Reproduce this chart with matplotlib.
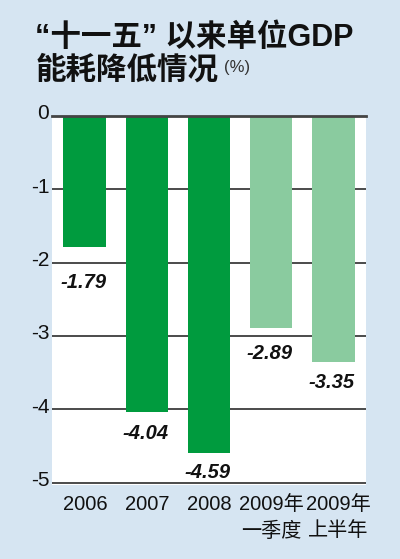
import numpy as np
import matplotlib.pyplot as plt
from matplotlib.transforms import ScaledTranslation

# data
categories = ['2006', '2007', '2008', '2009年\n一季度', '2009年\n上半年']
values = [-1.79, -4.04, -4.59, -2.89, -3.35]
value_labels = ['-1.79', '-4.04', '-4.59', '-2.89', '-3.35']
yticks = [0, -1, -2, -3, -4, -5]
ytick_labels = ['0', '-1', '-2', '-3', '-4', '-5']

dark_green = '#009b3e'
light_green = '#8acb9f'
bar_colors = [dark_green, dark_green, dark_green, light_green, light_green]
label_drop = [25, 15, 14, 18, 15]  # points below end of bar

bg = '#d6e5f2'
fams = ['Liberation Sans', 'Noto Sans CJK SC']
plt.rcParams['font.family'] = fams

fig = plt.figure(figsize=(4, 5.59), dpi=100, facecolor=bg)
ax = fig.add_axes([0.13, 0.1324, 0.785, 0.6601])
ax.set_facecolor('white')

x = np.arange(len(categories))
ax.bar(x, values, width=0.69, color=bar_colors, zorder=2)

# gridlines behind bars
for y in yticks[1:]:
    ax.axhline(y, color='#1a1a1a', lw=1.1, zorder=1)
ax.axhline(0, color='#444444', lw=2, zorder=3, clip_on=False)

# value labels under the bars
for xi, v, lab, d in zip(x, values, value_labels, label_drop):
    ax.annotate(lab, (xi, v), xytext=(-1, -d), textcoords='offset points',
                ha='center', va='center', fontsize=14.5, fontweight='bold',
                fontstyle='italic', color='#111111', zorder=4)

ax.set_xlim(-0.53, 4.53)
ax.set_ylim(-5.03, 0)
for s in ax.spines.values():
    s.set_visible(False)

ax.set_yticks(yticks)
ax.set_yticklabels(ytick_labels)
ax.set_xticks(x)
ax.set_xticklabels(categories, linespacing=1.5)
ax.tick_params(axis='y', length=0, pad=2, labelsize=15, colors='#111111')
ax.tick_params(axis='x', length=0, pad=7, labelsize=14.5, colors='#111111')

shift = ScaledTranslation(0, 3 / 72, fig.dpi_scale_trans)
for t in ax.get_yticklabels():
    t.set_transform(t.get_transform() + shift)
# last label sits a little right of its bar in the original
xl = ax.get_xticklabels()
xl[-1].set_transform(xl[-1].get_transform() +
                     ScaledTranslation(5 / 100, 0, fig.dpi_scale_trans))

# title
fig.text(35 / 400, 1 - 46 / 559, '“十一五” 以来单位GDP', fontsize=22,
         fontweight='bold', va='baseline', ha='left', color='#111111')
fig.text(36 / 400, 1 - 79 / 559, '能耗降低情况', fontsize=22,
         fontweight='bold', va='baseline', ha='left', color='#111111')
fig.text(224 / 400, 1 - 72 / 559, '(%)', fontsize=12,
         va='baseline', ha='left', color='#333333')

fig.savefig('out.png', dpi=100, facecolor=bg)
